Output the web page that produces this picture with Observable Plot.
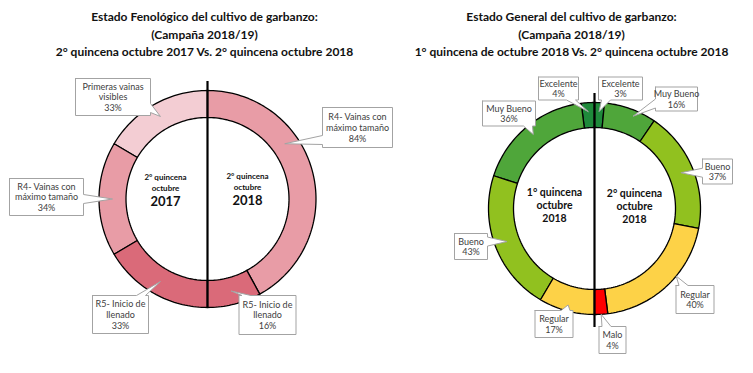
<!DOCTYPE html>
<html><head><meta charset="utf-8">
<script src="https://cdn.jsdelivr.net/npm/d3@7"></script>
<script src="https://cdn.jsdelivr.net/npm/@observablehq/plot@0.6"></script>
<style>body{margin:0;background:#fff} svg{display:block}</style>
</head><body><div id="chart"></div>
<script>
// ---------- DATA ----------
const fenoTitle = ["Estado Fenológico del cultivo de garbanzo:", "(Campaña 2018/19)", "2° quincena octubre 2017 Vs. 2° quincena octubre 2018"];
const estadoTitle = ["Estado General del cultivo de garbanzo:", "(Campaña 2018/19)", "1° quincena de octubre 2018 Vs. 2° quincena octubre 2018"];

const fenoCats2017 = ["Primeras vainas visibles", "R4- Vainas con máximo tamaño", "R5- Inicio de llenado"];
const fenoVals2017 = [33, 34, 33];
const fenoCats2018 = ["R4- Vainas con máximo tamaño", "R5- Inicio de llenado"];
const fenoVals2018 = [84, 16];
const fenoLabelText = {"Primeras vainas visibles": "Primeras vainas\nvisibles", "R4- Vainas con máximo tamaño": "R4- Vainas con\nmáximo tamaño", "R5- Inicio de llenado": "R5- Inicio de\nllenado"};
const fenoInner2017 = ["2° quincena", "octubre", "2017"];
const fenoInner2018 = ["2° quincena", "octubre", "2018"];

const estadoCats1 = ["Excelente", "Muy Bueno", "Bueno", "Regular"];
const estadoVals1 = [4, 36, 43, 17];
const estadoCats2 = ["Excelente", "Muy Bueno", "Bueno", "Regular", "Malo"];
const estadoVals2 = [3, 16, 37, 40, 4];
const estadoInner1 = ["1° quincena", "octubre", "2018"];
const estadoInner2 = ["2° quincena", "octubre", "2018"];

// ---------- STYLE / LAYOUT ----------
const fenoColors = {"Primeras vainas visibles": "#f3cdd3", "R4- Vainas con máximo tamaño": "#e89ca6", "R5- Inicio de llenado": "#da6a79"};
const estadoColors = {"Excelente": "#1f8a3b", "Muy Bueno": "#4fa63a", "Bueno": "#91c11f", "Regular": "#fdd247", "Malo": "#ff0000"};
const W = 753, H = 373;
const donutFeno = {cx: 207, cy: 198.5, R: 108.5, r: 81.5, lineTop: -117.5, lineBottom: 108.5};
const donutEstado = {cx: 594, cy: 208, R: 106, r: 81, lineTop: -115, lineBottom: 119};
// callout layout: box centre offset from donut centre, size, side of pointer, tip position along slice
const fenoLayout2017 = [
  {bx: -94.5, by: -102, w: 75, h: 37, side: "right", t: 0.5, rt: 95},
  {bx: -161, by: -2, w: 74, h: 37, side: "right", t: 0.5, rt: 95},
  {bx: -87, by: 115.5, w: 56, h: 38, side: "top", t: 0.5, rt: 95}
];
const fenoLayout2018 = [
  {bx: 150, by: -71.5, w: 70, h: 40, side: "left", t: 0.36, rt: 95},
  {bx: 60, by: 116, w: 57, h: 39, side: "top", t: 0.5, rt: 95}
];
const estadoLayout1 = [
  {bx: -36, by: -120, w: 40, h: 23, side: "bottom", t: 0.5, rt: 97},
  {bx: -85.5, by: -95, w: 53, h: 25, side: "bottom", t: 0.5, rt: 96},
  {bx: -123.5, by: 38, w: 33, h: 26, side: "right", t: 0.5, rt: 93.5},
  {bx: -40.5, by: 115.5, w: 38, h: 27, side: "top", t: 0.5, rt: 100}
];
const estadoLayout2 = [
  {bx: 26, by: -120, w: 44, h: 23, side: "bottom", t: 0.5, rt: 97},
  {bx: 82, by: -109.5, w: 42, h: 24, side: "left", t: 0.6, rt: 100},
  {bx: 123, by: -37, w: 30, h: 25, side: "left", t: 0.5, rt: 93.5},
  {bx: 100.5, by: 91, w: 38, h: 28, side: "top", t: 0.4, rt: 106},
  {bx: 18, by: 131.5, w: 27, h: 27, side: "top", t: 0.5, rt: 106}
];

// ---------- GEOMETRY ----------
const rad = (d) => d * Math.PI / 180;
const pt = (D, r, deg) => [D.cx + r * Math.sin(rad(deg)), D.cy - r * Math.cos(rad(deg))];

function buildSlices(key, D, cats, vals, dir, colors, layout, textOf) {
  const total = d3.sum(vals);
  let acc = 0;
  return cats.map((c, i) => {
    const a0 = dir * acc / total * 180; acc += vals[i];
    const a1 = dir * acc / total * 180;
    return {id: key + i, D, cat: c, value: vals[i], a0, a1, color: colors[c], L: layout[i], text: (textOf ? textOf[c] : c) + "\n" + vals[i] + "%"};
  });
}

function slicePoints(s) {
  const pts = [];
  const n = Math.max(8, Math.ceil(Math.abs(s.a1 - s.a0) / 1.5));
  for (let k = 0; k <= n; k++) { const a = s.a0 + (s.a1 - s.a0) * k / n; const [x, y] = pt(s.D, s.D.R, a); pts.push({id: s.id, x, y, color: s.color}); }
  for (let k = n; k >= 0; k--) { const a = s.a0 + (s.a1 - s.a0) * k / n; const [x, y] = pt(s.D, s.D.r, a); pts.push({id: s.id, x, y, color: s.color}); }
  pts.push({...pts[0]});
  return pts;
}

function calloutPoints(s) {
  const L = s.L, D = s.D;
  const tip = pt(D, L.rt, s.a0 + (s.a1 - s.a0) * L.t);
  const x0 = D.cx + L.bx - L.w / 2, x1 = D.cx + L.bx + L.w / 2;
  const y0 = D.cy + L.by - L.h / 2, y1 = D.cy + L.by + L.h / 2;
  const bw = 9, m = 3;
  const cl = (v, a, b) => Math.max(a, Math.min(b, v));
  let P;
  if (L.side === "top") { const c = cl(tip[0], x0 + m + bw / 2, x1 - m - bw / 2); P = [[x0, y0], [c - bw / 2, y0], tip, [c + bw / 2, y0], [x1, y0], [x1, y1], [x0, y1], [x0, y0]]; }
  else if (L.side === "bottom") { const c = cl(tip[0], x0 + m + bw / 2, x1 - m - bw / 2); P = [[x0, y0], [x1, y0], [x1, y1], [c + bw / 2, y1], tip, [c - bw / 2, y1], [x0, y1], [x0, y0]]; }
  else if (L.side === "right") { const c = cl(tip[1], y0 + m + bw / 2, y1 - m - bw / 2); P = [[x0, y0], [x1, y0], [x1, c - bw / 2], tip, [x1, c + bw / 2], [x1, y1], [x0, y1], [x0, y0]]; }
  else { const c = cl(tip[1], y0 + m + bw / 2, y1 - m - bw / 2); P = [[x0, y0], [x1, y0], [x1, y1], [x0, y1], [x0, c + bw / 2], tip, [x0, c - bw / 2], [x0, y0]]; }
  return {poly: P.map(([x, y]) => ({id: s.id, x, y})), label: {x: D.cx + L.bx, y: D.cy + L.by, text: s.text}};
}

const slices = [
  ...buildSlices("f17-", donutFeno, fenoCats2017, fenoVals2017, -1, fenoColors, fenoLayout2017, fenoLabelText),
  ...buildSlices("f18-", donutFeno, fenoCats2018, fenoVals2018, 1, fenoColors, fenoLayout2018, fenoLabelText),
  ...buildSlices("e1-", donutEstado, estadoCats1, estadoVals1, -1, estadoColors, estadoLayout1),
  ...buildSlices("e2-", donutEstado, estadoCats2, estadoVals2, 1, estadoColors, estadoLayout2)
];
const ringPts = slices.flatMap(slicePoints);
const callouts = slices.map(calloutPoints);
const calloutPolys = callouts.flatMap(c => c.poly);
const calloutLabels = callouts.map(c => c.label);

const dividers = [donutFeno, donutEstado].map(D => ({x: D.cx, y1: D.cy + D.lineTop, y2: D.cy + D.lineBottom}));

const innerFeno = [
  {x: donutFeno.cx - 42, y: donutFeno.cy - 17, text: fenoInner2017.slice(0, 2).join("\n"), big: fenoInner2017[2]},
  {x: donutFeno.cx + 40, y: donutFeno.cy - 18, text: fenoInner2018.slice(0, 2).join("\n"), big: fenoInner2018[2]}
];
const innerEstado = [
  {x: donutEstado.cx - 40, y: donutEstado.cy - 4, text: estadoInner1.join("\n")},
  {x: donutEstado.cx + 40, y: donutEstado.cy - 3, text: estadoInner2.join("\n")}
];
const titles = [
  {x: 204, y: 32.5, text: fenoTitle.join("\n")},
  {x: 571, y: 32.5, text: estadoTitle.join("\n")}
];

const FONT = "Lato, 'Liberation Sans', sans-serif";
const chart = Plot.plot({
  width: W, height: H, margin: 0,
  style: {fontFamily: FONT, background: "#fff"},
  x: {domain: [0, W], range: [0, W], axis: null},
  y: {domain: [0, H], range: [0, H], axis: null},
  color: {type: "identity"},
  marks: [
    Plot.line(ringPts, {x: "x", y: "y", z: "id", fill: "color", stroke: "#000", strokeWidth: 1.3, curve: "linear", strokeLinejoin: "miter"}),
    Plot.ruleX(dividers, {x: "x", y1: "y1", y2: "y2", stroke: "#000", strokeWidth: 2.2}),
    Plot.line(calloutPolys, {x: "x", y: "y", z: "id", fill: "#fff", stroke: "#a3a3a3", strokeWidth: 1, curve: "linear"}),
    Plot.text(calloutLabels, {x: "x", y: "y", text: "text", fontSize: 9, lineHeight: 1.2, fill: "#404040"}),
    Plot.text(innerFeno, {x: "x", y: "y", text: "text", fontSize: 8, lineHeight: 1.35, fontWeight: "bold", fill: "#111"}),
    Plot.text(innerFeno, {x: "x", y: (d) => d.y + 20, text: "big", fontSize: 13, fontWeight: "bold", fill: "#111"}),
    Plot.text(innerEstado, {x: "x", y: "y", text: "text", fontSize: 10.5, lineHeight: 1.25, fontWeight: "bold", fill: "#111"}),
    Plot.text(titles, {x: "x", y: "y", text: "text", fontSize: 12, lineHeight: 1.46, fontWeight: "bold", fill: "#111"})
  ]
});
document.getElementById("chart").append(chart);
</script>
</body></html>
